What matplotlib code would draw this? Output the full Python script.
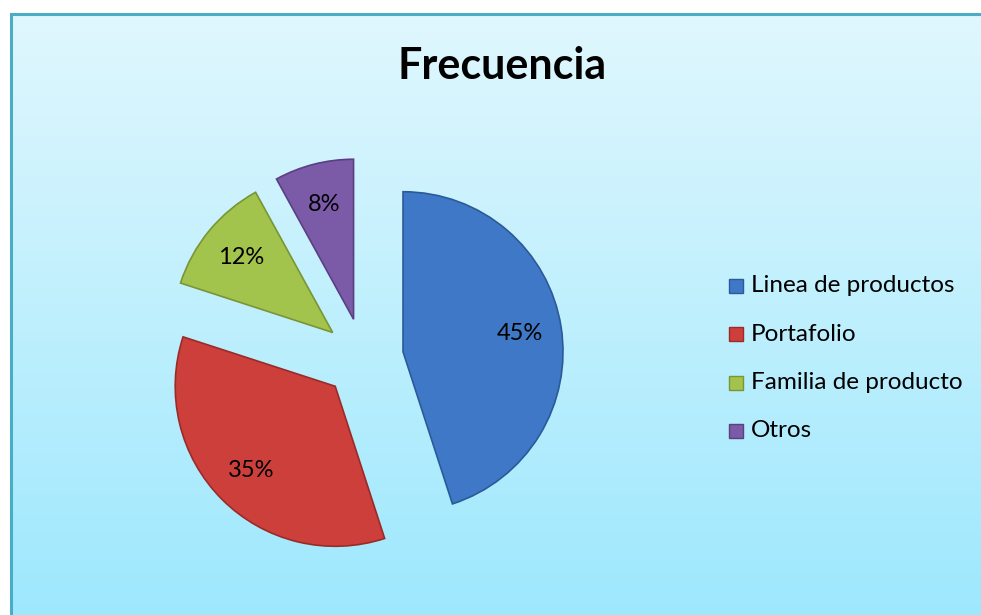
## Exploded pie: Frecuencia
import matplotlib.pyplot as plt
import numpy as np
from matplotlib.patches import Rectangle

categorias = ['Linea de productos', 'Portafolio', 'Familia de producto', 'Otros']
valores = [45, 35, 12, 8]
colores = ['#3f78c6', '#cc3f3b', '#a2c34c', '#7b5aa8']
bordes = ['#2b5a98', '#9a2b28', '#7a9535', '#5a3f82']

W, H = 981, 615
fig = plt.figure(figsize=(W / 100, H / 100), dpi=100)
fig.patch.set_facecolor('white')
ax = fig.add_axes([0, 0, 1, 1])
ax.set_xlim(0, W)
ax.set_ylim(0, H)
ax.axis('off')

# background gradient (light cyan on top, stronger at bottom)
top = np.array([224, 247, 254]) / 255
bot = np.array([158, 232, 253]) / 255
t = np.linspace(0, 1, 256)[:, None]
grad = (top * (1 - t) + bot * t)[:, None, :].repeat(2, axis=1)
ax.imshow(grad, extent=[11, W + 5, 0, H - 14], aspect='auto', zorder=0)
ax.add_patch(Rectangle((11, -5), W, H - 9, fill=False, edgecolor='#4bacc6',
                       lw=2.2, zorder=1))

# pie
r = 160
wedges, texts, autotexts = ax.pie(
    valores, colors=colores, startangle=90, counterclock=False,
    center=(363.5, H - 358), radius=r, explode=[40] * 4,
    autopct='%1.0f%%', pctdistance=0.74,
    wedgeprops=dict(linewidth=1.2), frame=True,
    textprops=dict(fontsize=17, color='black', family=['Lato', 'DejaVu Sans']))
for w, b in zip(wedges, bordes):
    w.set_edgecolor(b)
    w.set_zorder(3)
for at in autotexts:
    at.set_zorder(5)
ax.set_xlim(0, W)
ax.set_ylim(0, H)
ax.set_aspect('equal')
ax.axis('off')

ax.text(502, H - 66, 'Frecuencia', ha='center', va='center', fontsize=31,
        fontweight='bold', family=['Lato', 'DejaVu Sans'], zorder=5)

# legend
for i, (c, b, lab) in enumerate(zip(colores, bordes, categorias)):
    y = H - (286 + 48.3 * i)
    ax.add_patch(Rectangle((729, y - 7), 14, 14, facecolor=c, edgecolor=b,
                           lw=1, zorder=5))
    ax.text(751, y, lab, ha='left', va='center', fontsize=17.5,
            family=['Lato', 'DejaVu Sans'], zorder=5)

plt.savefig('out.png', dpi=100)
